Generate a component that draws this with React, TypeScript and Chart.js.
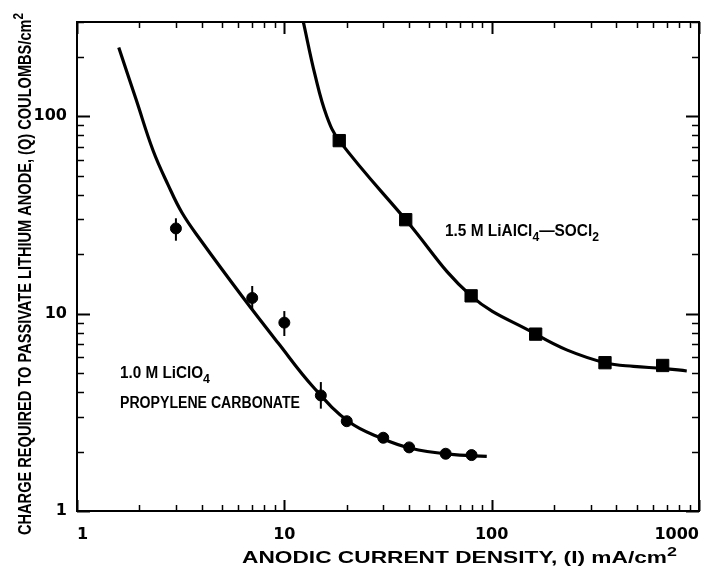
import React, { useEffect, useRef } from 'react';
import { Chart, registerables } from 'chart.js';

Chart.register(...registerables);

// ---- data ----
const xTickLabels = ['1', '10', '100', '1000'];
const yTickLabels = ['1', '10', '100'];

// 1.0 M LiClO4 / propylene carbonate: measured points
const liclo4X = [3, 7, 10, 15, 20, 30, 40, 60, 80];
const liclo4Y = [27, 12, 9, 3.85, 2.85, 2.35, 2.1, 1.95, 1.92];
const liclo4ErrLow = [23.4, 10.4, 7.7, 3.3, null, null, null, null, null];
const liclo4ErrHigh = [30.4, 13.8, 10.3, 4.5, null, null, null, null, null];

// fitted curve through LiClO4 data
const liclo4CurveX = [1.59, 1.93, 2.33, 2.75, 3.21, 3.92, 6.32, 9.32, 13.75, 20.5, 29.6, 40.7, 62.3, 94.7];
const liclo4CurveY = [223, 121, 66.8, 44.9, 32.4, 23.8, 12.06, 7.11, 4.26, 2.83, 2.33, 2.08, 1.94, 1.89];

// 1.5 M LiAlCl4-SOCl2: measured points
const alcl4X = [18.4, 38.5, 79.6, 163, 352, 668];
const alcl4Y = [75.2, 29.9, 12.3, 7.87, 5.64, 5.46];

// fitted curve through LiAlCl4 data
const alcl4CurveX = [12.35, 14.06, 16.0, 18.4, 38.5, 79.6, 163, 230, 352, 483, 669, 873];
const alcl4CurveY = [300, 161.7, 100.2, 75.2, 29.9, 12.3, 7.87, 6.55, 5.64, 5.4, 5.28, 5.12];

const X_MIN = 1;
const X_MAX = 1000;
const Y_MIN = 1;
const Y_MAX = 300;

const xTitle = [{ t: 'ANODIC CURRENT DENSITY, (I) mA/cm' }, { t: '2', sup: true }];
const yTitle = [
  { t: 'CHARGE REQUIRED TO PASSIVATE LITHIUM ANODE, (Q) COULOMBS/cm' },
  { t: '2', sup: true },
];
const label1 = [{ t: '1.0 M LiClO' }, { t: '4', sub: true }];
const label2 = [{ t: 'PROPYLENE CARBONATE' }];
const label3 = [{ t: '1.5 M LiAlCl' }, { t: '4', sub: true }, { t: '\u2014SOCl' }, { t: '2', sub: true }];

type Seg = { t: string; sub?: boolean; sup?: boolean };

const FONT = '"Liberation Sans", Arial, sans-serif';

function drawRich(
  ctx: CanvasRenderingContext2D,
  segs: Seg[],
  x: number,
  y: number,
  size: number,
  width: number | null,
  rotate = false,
  weight = 'bold'
) {
  const base = `${weight} ${size}px ${FONT}`;
  const small = `${weight} ${Math.round(size * 0.8)}px ${FONT}`;
  const widths = segs.map((s) => {
    ctx.font = s.sub || s.sup ? small : base;
    return ctx.measureText(s.t).width;
  });
  const total = widths.reduce((a, b) => a + b, 0);
  const sx = width ? width / total : 1;
  ctx.save();
  ctx.translate(x, y);
  if (rotate) ctx.rotate(-Math.PI / 2);
  ctx.scale(sx, 1);
  ctx.fillStyle = '#000';
  ctx.textAlign = 'left';
  ctx.textBaseline = 'alphabetic';
  let cx = 0;
  segs.forEach((s, i) => {
    ctx.font = s.sub || s.sup ? small : base;
    const dy = s.sub ? size * 0.32 : s.sup ? -size * 0.45 : 0;
    ctx.fillText(s.t, cx, dy);
    cx += widths[i];
  });
  ctx.restore();
}

function logTicks(min: number, max: number) {
  const out: { v: number; major: boolean }[] = [];
  for (let e = Math.floor(Math.log10(min)); e <= Math.ceil(Math.log10(max)); e++) {
    for (let m = 1; m <= 9; m++) {
      const v = m * Math.pow(10, e);
      if (v >= min * 0.999 && v <= max * 1.001) out.push({ v, major: m === 1 });
    }
  }
  return out;
}

const framePlugin = {
  id: 'frame',
  beforeDatasetsDraw(chart: any) {
    // error bars
    const ctx = chart.ctx as CanvasRenderingContext2D;
    const xs = chart.scales.x;
    const ys = chart.scales.y;
    ctx.save();
    ctx.strokeStyle = '#000';
    ctx.lineWidth = 2;
    liclo4X.forEach((xv, i) => {
      const lo = liclo4ErrLow[i];
      const hi = liclo4ErrHigh[i];
      if (lo == null || hi == null) return;
      const px = xs.getPixelForValue(xv);
      ctx.beginPath();
      ctx.moveTo(px, ys.getPixelForValue(lo));
      ctx.lineTo(px, ys.getPixelForValue(hi));
      ctx.stroke();
    });
    ctx.restore();
  },
  afterDraw(chart: any) {
    const ctx = chart.ctx as CanvasRenderingContext2D;
    const a = chart.chartArea;
    const xs = chart.scales.x;
    const ys = chart.scales.y;
    ctx.save();
    ctx.strokeStyle = '#000';
    ctx.lineWidth = 2;
    ctx.strokeRect(a.left, a.top, a.right - a.left, a.bottom - a.top);
    // x ticks (bottom and top), pointing inwards
    logTicks(xs.min, xs.max).forEach(({ v, major }) => {
      const px = Math.round(xs.getPixelForValue(v)) + 0.5;
      ctx.lineWidth = major ? 2 : 1.5;
      const lb = major ? 11 : 6;
      const lt = major ? 12 : 6;
      ctx.beginPath();
      ctx.moveTo(px, a.bottom);
      ctx.lineTo(px, a.bottom - lb);
      ctx.moveTo(px, a.top);
      ctx.lineTo(px, a.top + lt);
      ctx.stroke();
    });
    // y ticks (left and right), pointing inwards
    logTicks(ys.min, ys.max).forEach(({ v, major }) => {
      const py = Math.round(ys.getPixelForValue(v)) + 0.5;
      ctx.lineWidth = major ? 2 : 1.5;
      const l = major ? 13 : 7;
      ctx.beginPath();
      ctx.moveTo(a.left, py);
      ctx.lineTo(a.left + l, py);
      ctx.moveTo(a.right, py);
      ctx.lineTo(a.right - l, py);
      ctx.stroke();
    });
    ctx.restore();

    // titles and annotations
    drawRich(ctx, xTitle, 242, 563, 16.5, 435);
    drawRich(ctx, yTitle, 31, 535, 17.5, 522, true);
    drawRich(ctx, label1, 120, 378, 16, 90);
    drawRich(ctx, label2, 120, 408, 16, 180);
    drawRich(ctx, label3, 445, 236, 16.5, 154);
  },
};

const isPow10 = (v: number) => Math.abs(Math.log10(v) - Math.round(Math.log10(v))) < 1e-9;

export default function App() {
  const ref = useRef<HTMLCanvasElement>(null);
  useEffect(() => {
    const liclo4Pts = liclo4X.map((x, i) => ({ x, y: liclo4Y[i] }));
    const liclo4Curve = liclo4CurveX.map((x, i) => ({ x, y: liclo4CurveY[i] }));
    const alcl4Pts = alcl4X.map((x, i) => ({ x, y: alcl4Y[i] }));
    const alcl4Curve = alcl4CurveX.map((x, i) => ({ x, y: alcl4CurveY[i] }));
    const tickFont = { family: '"DejaVu Sans", sans-serif', size: 16, weight: 'bold' };
    const chart = new Chart(ref.current as HTMLCanvasElement, {
      type: 'scatter',
      data: {
        datasets: [
          {
            label: '1.0 M LiClO4 (data)',
            data: liclo4Pts,
            pointStyle: 'circle',
            pointRadius: 5.5,
            backgroundColor: '#000',
            borderColor: '#000',
            borderWidth: 1,
            showLine: false,
            order: 0,
          },
          {
            label: '1.5 M LiAlCl4-SOCl2 (data)',
            data: alcl4Pts,
            pointStyle: 'rect',
            pointRadius: 8.7,
            backgroundColor: '#000',
            borderColor: '#000',
            borderWidth: 1,
            showLine: false,
            order: 0,
          },
          {
            label: '1.0 M LiClO4 (fit)',
            data: liclo4Curve,
            showLine: true,
            pointRadius: 0,
            borderColor: '#000',
            borderWidth: 3.2,
            tension: 0.4,
            order: 1,
          },
          {
            label: '1.5 M LiAlCl4-SOCl2 (fit)',
            data: alcl4Curve,
            showLine: true,
            pointRadius: 0,
            borderColor: '#000',
            borderWidth: 3.2,
            tension: 0.4,
            order: 1,
          },
        ],
      } as any,
      options: {
        responsive: false,
        animation: false,
        events: [],
        layout: { padding: { top: 22, right: 15, left: 0, bottom: 0 } },
        plugins: { legend: { display: false }, tooltip: { enabled: false } },
        scales: {
          x: {
            type: 'logarithmic',
            min: X_MIN,
            max: X_MAX,
            grid: { display: false },
            border: { display: false },
            ticks: {
              autoSkip: false,
              maxRotation: 0,
              align: 'inner',
              padding: 6,
              color: '#000',
              font: tickFont,
              callback: (v: any) => {
                const n = Number(v);
                if (!isPow10(n)) return '';
                const s = String(Math.round(n));
                return xTickLabels.includes(s) ? s : '';
              },
            },
            afterFit: (s: any) => {
              s.height = 55;
            },
          },
          y: {
            type: 'logarithmic',
            min: Y_MIN,
            max: Y_MAX,
            grid: { display: false },
            border: { display: false },
            ticks: {
              autoSkip: false,
              padding: 2,
              color: '#000',
              font: tickFont,
              callback: (v: any) => {
                const n = Number(v);
                if (!isPow10(n)) return '';
                const s = String(Math.round(n));
                return yTickLabels.includes(s) ? s : '';
              },
            },
            afterFit: (s: any) => {
              s.width = 77;
            },
          },
        },
      } as any,
      plugins: [framePlugin],
    });
    return () => chart.destroy();
  }, []);
  return (
    <div style={{ position: 'absolute', left: 0, top: 0, width: 714, height: 566, background: '#fff' }}>
      <canvas ref={ref} width={714} height={566} style={{ display: 'block' }} />
    </div>
  );
}
